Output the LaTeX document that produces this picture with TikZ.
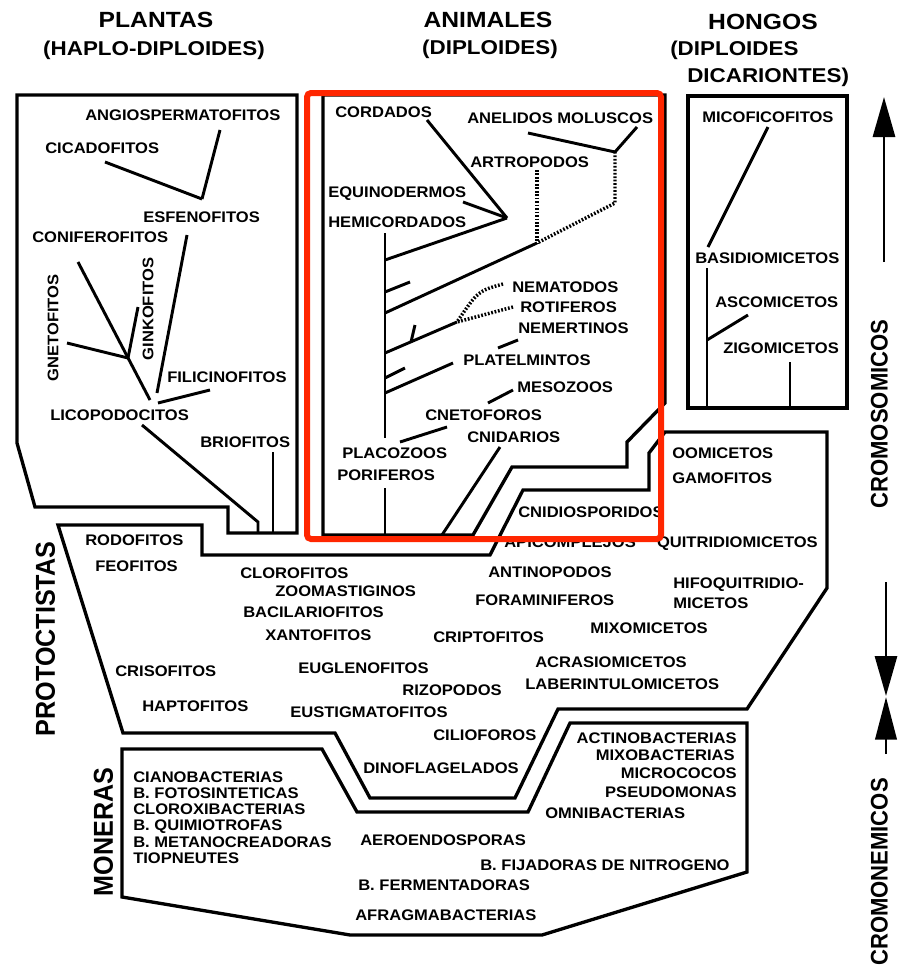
\documentclass[tikz,border=0pt]{standalone}
\usepackage{fontspec}
\usetikzlibrary{arrows.meta}
\newfontfamily\labfont{Liberation Sans}[FakeStretch=1.08]
\newfontfamily\ttlfont{Liberation Sans}[FakeStretch=1.12]
\newfontfamily\sidefont{Liberation Sans}[FakeStretch=0.92]
\definecolor{hilite}{RGB}{255,38,0}
\tikzset{
  box/.style={line width=2.5pt, line join=miter},
  br/.style={line width=2.2pt},
  dots/.style={line width=2.6pt, dash pattern=on 1.3pt off 1.3pt},
  lab/.style={font=\labfont\bfseries\fontsize{11.5}{12}\selectfont,
    inner sep=0pt, text height=8.2pt, text depth=0pt},
  ttl/.style={font=\ttlfont\bfseries\fontsize{16.5}{17}\selectfont,
    inner sep=0pt, text height=11.8pt, text depth=0pt},
  sub/.style={font=\ttlfont\bfseries\fontsize{15}{16}\selectfont,
    inner sep=0pt, text height=10.7pt, text depth=0pt},
  side/.style={font=\sidefont\bfseries\fontsize{20.5}{21}\selectfont,
    inner sep=0pt, rotate=90, text height=14.7pt, text depth=0pt},
  sider/.style={font=\sidefont\bfseries\fontsize{18}{19}\selectfont,
    inner sep=0pt, rotate=90, text height=12.9pt, text depth=0pt},
  arr/.style={line width=2.2pt, -{Triangle[length=30pt,width=16.5pt]}},
}
\begin{document}
\begin{tikzpicture}[x=0.75pt, y=-0.75pt]
\useasboundingbox (0,0) rectangle (897,972);

% ---------- titles ----------
\node[ttl] (tPl) at (156,20) {PLANTAS};
\node[sub] (tPl2) at (154,48) {(HAPLO-DIPLOIDES)};
\node[ttl] (tAn) at (488,20) {ANIMALES};
\node[sub] (tAn2) at (490,47) {(DIPLOIDES)};
\node[ttl] (tHo) at (763,22) {HONGOS};
\node[sub, anchor=west] (tHo2) at (670,48) {(DIPLOIDES};
\node[sub, anchor=west] (tHo3) at (687,75) {DICARIONTES)};

% ---------- kingdom outlines ----------
% plants
\draw[box] (17,95) -- (297,95) -- (297,533) -- (228,533) -- (228,507)
  -- (35,507) -- (17,443) -- cycle;
% animals
\draw[box] (323,95) -- (665,95) -- (665,403) -- (627,442) -- (627,467)
  -- (512,467) -- (473,535) -- (323,535) -- cycle;
% fungi
\draw[box] (688,96) rectangle (847,408);
% protoctists
\draw[box] (58,525) -- (202,525) -- (202,555) -- (490,555) -- (523,490)
  -- (649,490) -- (649,453) -- (665,432) -- (827,432) -- (827,588)
  -- (747,709) -- (558,709) -- (515,798) -- (370,798) -- (335,733)
  -- (123,733) -- cycle;
% monera
\draw[box] (122,749) -- (322,749) -- (357,812) -- (528,812) -- (570,723)
  -- (747,723) -- (747,872) -- (542,935) -- (350,935) -- (122,897) -- cycle;

% ---------- plant tree ----------
\coordinate (pAng) at (220,130);
\coordinate (pCic) at (105,162);
\coordinate (pJ1) at (202,199);
\coordinate (pEsf) at (187,235);
\coordinate (pJ2) at (157,393);
\coordinate (pCon) at (78,262);
\coordinate (pJ3) at (150,400);
\coordinate (pGin) at (138,307);
\coordinate (pJ4) at (128,358);
\coordinate (pGne) at (67,343);
\coordinate (pFil) at (210,390);
\coordinate (pFilE) at (158,403);
\coordinate (pLic) at (142,425);
\coordinate (pLicB) at (258,522);
\coordinate (pLicE) at (258,533);
\coordinate (pBri) at (273,452);
\coordinate (pBriE) at (273,533);
\draw[br] (pAng) -- (pJ1);
\draw[br] (pCic) -- (pJ1);
\draw[br] (pEsf) -- (pJ2);
\draw[br] (pCon) -- (pJ3);
\draw[br] (pGin) -- (pJ4);
\draw[br] (pGne) -- (pJ4);
\draw[br] (pFil) -- (pFilE);
\draw[br] (pLic) -- (pLicB) -- (pLicE);
\draw[br] (pBri) -- (pBriE);

\node[lab, anchor=west] (nAng) at (85,115) {ANGIOSPERMATOFITOS};
\node[lab, anchor=west] (nCic) at (45,148) {CICADOFITOS};
\node[lab, anchor=west] (nEsf) at (143,217) {ESFENOFITOS};
\node[lab, anchor=west] (nCon) at (32,237) {CONIFEROFITOS};
\node[lab, rotate=90] (nGne) at (53,328) {GNETOFITOS};
\node[lab, rotate=90] (nGin) at (148,309) {GINKOFITOS};
\node[lab, anchor=west] (nFil) at (167,377) {FILICINOFITOS};
\node[lab, anchor=west] (nLic) at (50,415) {LICOPODOCITOS};
\node[lab, anchor=west] (nBri) at (200,442) {BRIOFITOS};

% ---------- animal tree ----------
\coordinate (aCor) at (427,120);
\coordinate (aEqu) at (463,202);
\coordinate (aJ1) at (507,218);
\coordinate (aT1) at (385,260);
\coordinate (aTop) at (385,233);
\coordinate (aMid) at (385,438);
\coordinate (aAne) at (528,133);
\coordinate (aMol) at (637,127);
\coordinate (aJ2) at (615,152);
\coordinate (aJ2b) at (615,203);
\coordinate (aArt) at (537,170);
\coordinate (aJ3) at (537,243);
\coordinate (aT2) at (385,313);
\coordinate (aS1a) at (385,292);
\coordinate (aS1b) at (410,282);
\coordinate (aNem) at (503,284);
\coordinate (aRot) at (513,307);
\coordinate (aJ4) at (457,322);
\coordinate (aT3) at (385,353);
\coordinate (aTk1) at (415,325);
\coordinate (aTk2) at (411,342);
\coordinate (aNmr) at (518,340);
\coordinate (aNmrE) at (498,348);
\coordinate (aS2a) at (385,378);
\coordinate (aS2b) at (405,368);
\coordinate (aPla) at (453,363);
\coordinate (aT4) at (385,393);
\coordinate (aMes) at (513,390);
\coordinate (aMesE) at (488,403);
\coordinate (aCne) at (447,427);
\coordinate (aCneE) at (400,442);
\coordinate (aCni) at (500,447);
\coordinate (aCniE) at (442,535);
\coordinate (aPor) at (385,488);
\coordinate (aBot) at (385,535);

\draw[br] (aCor) -- (aJ1);
\draw[br] (aEqu) -- (aJ1);
\draw[br] (aJ1) -- (aT1);
\draw[br] (aTop) -- (aMid);
\draw[br] (aAne) -- (aJ2);
\draw[br] (aMol) -- (aJ2);
\draw[dots] (aJ2) -- (aJ2b) -- (aJ3);
\draw[dots] (aArt) -- (aJ3);
\draw[br] (aJ3) -- (aT2);
\draw[br] (aS1a) -- (aS1b);
\draw[dots] (aNem) .. controls (478,291) .. (aJ4);
\draw[dots] (aRot) -- (aJ4);
\draw[br] (aJ4) -- (aT3);
\draw[br] (aTk1) -- (aTk2);
\draw[br] (aNmr) -- (aNmrE);
\draw[br] (aS2a) -- (aS2b);
\draw[br] (aPla) -- (aT4);
\draw[br] (aMes) -- (aMesE);
\draw[br] (aCne) -- (aCneE);
\draw[br] (aCni) -- (aCniE);
\draw[br] (aPor) -- (aBot);

\node[lab, anchor=west] (nCor) at (335,112) {CORDADOS};
\node[lab, anchor=west] (nAne) at (467,118) {ANELIDOS MOLUSCOS};
\node[lab, anchor=west] (nArt) at (470,162) {ARTROPODOS};
\node[lab, anchor=west] (nEqu) at (328,192) {EQUINODERMOS};
\node[lab, anchor=west] (nHem) at (328,222) {HEMICORDADOS};
\node[lab, anchor=west] (nNem) at (512,287) {NEMATODOS};
\node[lab, anchor=west] (nRot) at (520,307) {ROTIFEROS};
\node[lab, anchor=west] (nNmr) at (518,328) {NEMERTINOS};
\node[lab, anchor=west] (nPla) at (463,360) {PLATELMINTOS};
\node[lab, anchor=west] (nMes) at (517,387) {MESOZOOS};
\node[lab, anchor=west] (nCne) at (425,415) {CNETOFOROS};
\node[lab, anchor=west] (nCni) at (467,437) {CNIDARIOS};
\node[lab, anchor=west] (nPlc) at (342,453) {PLACOZOOS};
\node[lab, anchor=west] (nPor) at (337,475) {PORIFEROS};

% ---------- fungal tree ----------
\coordinate (fMic) at (768,127);
\coordinate (fMicE) at (708,247);
\coordinate (fBas) at (707,268);
\coordinate (fBasE) at (707,408);
\coordinate (fAsc) at (748,315);
\coordinate (fAscE) at (707,340);
\coordinate (fZig) at (790,362);
\coordinate (fZigE) at (790,406);
\draw[br] (fMic) -- (fMicE);
\draw[br] (fBas) -- (fBasE);
\draw[br] (fAsc) -- (fAscE);
\draw[br] (fZig) -- (fZigE);

\node[lab, anchor=west] (nMic) at (702,117) {MICOFICOFITOS};
\node[lab, anchor=west] (nBas) at (695,258) {BASIDIOMICETOS};
\node[lab, anchor=west] (nAsc) at (715,302) {ASCOMICETOS};
\node[lab, anchor=west] (nZig) at (723,348) {ZIGOMICETOS};

% ---------- protoctists ----------
\node[lab, anchor=west] (nOom) at (672,453) {OOMICETOS};
\node[lab, anchor=west] (nGam) at (672,478) {GAMOFITOS};
\node[lab, anchor=west] (nCnd) at (518,512) {CNIDIOSPORIDOS};
\node[lab, anchor=west] (nApi) at (504,542) {APICOMPLEJOS};
\node[lab, anchor=east] (nQui) at (818,542) {QUITRIDIOMICETOS};
\node[lab, anchor=west] (nRod) at (85,540) {RODOFITOS};
\node[lab, anchor=west] (nFeo) at (95,566) {FEOFITOS};
\node[lab, anchor=west] (nClo) at (240,573) {CLOROFITOS};
\node[lab, anchor=west] (nZoo) at (275,591) {ZOOMASTIGINOS};
\node[lab, anchor=west] (nBac) at (243,612) {BACILARIOFITOS};
\node[lab, anchor=west] (nXan) at (265,635) {XANTOFITOS};
\node[lab, anchor=west] (nAnt) at (488,572) {ANTINOPODOS};
\node[lab, anchor=west] (nFor) at (475,600) {FORAMINIFEROS};
\node[lab, anchor=west] (nHif) at (673,583) {HIFOQUITRIDIO-};
\node[lab, anchor=west] (nHif2) at (673,603) {MICETOS};
\node[lab, anchor=west] (nMix) at (590,628) {MIXOMICETOS};
\node[lab, anchor=west] (nCri) at (433,637) {CRIPTOFITOS};
\node[lab, anchor=west] (nAcr) at (535,662) {ACRASIOMICETOS};
\node[lab, anchor=west] (nLab) at (525,684) {LABERINTULOMICETOS};
\node[lab, anchor=west] (nCrs) at (115,671) {CRISOFITOS};
\node[lab, anchor=west] (nEug) at (298,668) {EUGLENOFITOS};
\node[lab, anchor=east] (nRiz) at (502,690) {RIZOPODOS};
\node[lab, anchor=west] (nHap) at (142,706) {HAPTOFITOS};
\node[lab, anchor=west] (nEus) at (290,712) {EUSTIGMATOFITOS};
\node[lab, anchor=west] (nCil) at (433,735) {CILIOFOROS};
\node[lab, anchor=west] (nDin) at (363,768) {DINOFLAGELADOS};

% ---------- monera ----------
\node[lab, anchor=west] (nCia) at (133,777) {CIANOBACTERIAS};
\node[lab, anchor=west] (nFot) at (133,793) {B. FOTOSINTETICAS};
\node[lab, anchor=west] (nClx) at (133,809) {CLOROXIBACTERIAS};
\node[lab, anchor=west] (nQmi) at (133,825) {B. QUIMIOTROFAS};
\node[lab, anchor=west] (nMet) at (133,842) {B. METANOCREADORAS};
\node[lab, anchor=west] (nTio) at (133,858) {TIOPNEUTES};
\node[lab, anchor=east] (nAct) at (737,738) {ACTINOBACTERIAS};
\node[lab, anchor=east] (nMxb) at (735,755) {MIXOBACTERIAS};
\node[lab, anchor=east] (nMcc) at (737,773) {MICROCOCOS};
\node[lab, anchor=east] (nPse) at (737,792) {PSEUDOMONAS};
\node[lab, anchor=west] (nOmn) at (545,813) {OMNIBACTERIAS};
\node[lab, anchor=west] (nAer) at (360,840) {AEROENDOSPORAS};
\node[lab, anchor=west] (nFij) at (480,865) {B. FIJADORAS DE NITROGENO};
\node[lab, anchor=west] (nFer) at (358,885) {B. FERMENTADORAS};
\node[lab, anchor=west] (nAfr) at (355,915) {AFRAGMABACTERIAS};

% ---------- side labels ----------
\node[side] (sPro) at (45,639) {PROTOCTISTAS};
\node[side] (sMon) at (103,832) {MONERAS};
\node[sider] (sCrs) at (879,414) {CROMOSOMICOS};
\node[sider] (sCrn) at (879,872) {CROMONEMICOS};

% ---------- direction arrows ----------
\coordinate (u1s) at (884,262);
\coordinate (u1t) at (884,97);
\coordinate (d1s) at (886,582);
\coordinate (d1t) at (886,696);
\coordinate (u2s) at (886,754);
\coordinate (u2t) at (886,697);
\draw[arr] (u1s) -- (u1t);
\draw[arr] (d1s) -- (d1t);
\draw[line width=2.2pt, -{Triangle[length=32pt,width=16pt]}] (u2s) -- (u2t);

% ---------- highlight frame ----------
\draw[hilite, line width=4.5pt, rounded corners=3pt] (307,93) rectangle (661,539);
\end{tikzpicture}
\end{document}
